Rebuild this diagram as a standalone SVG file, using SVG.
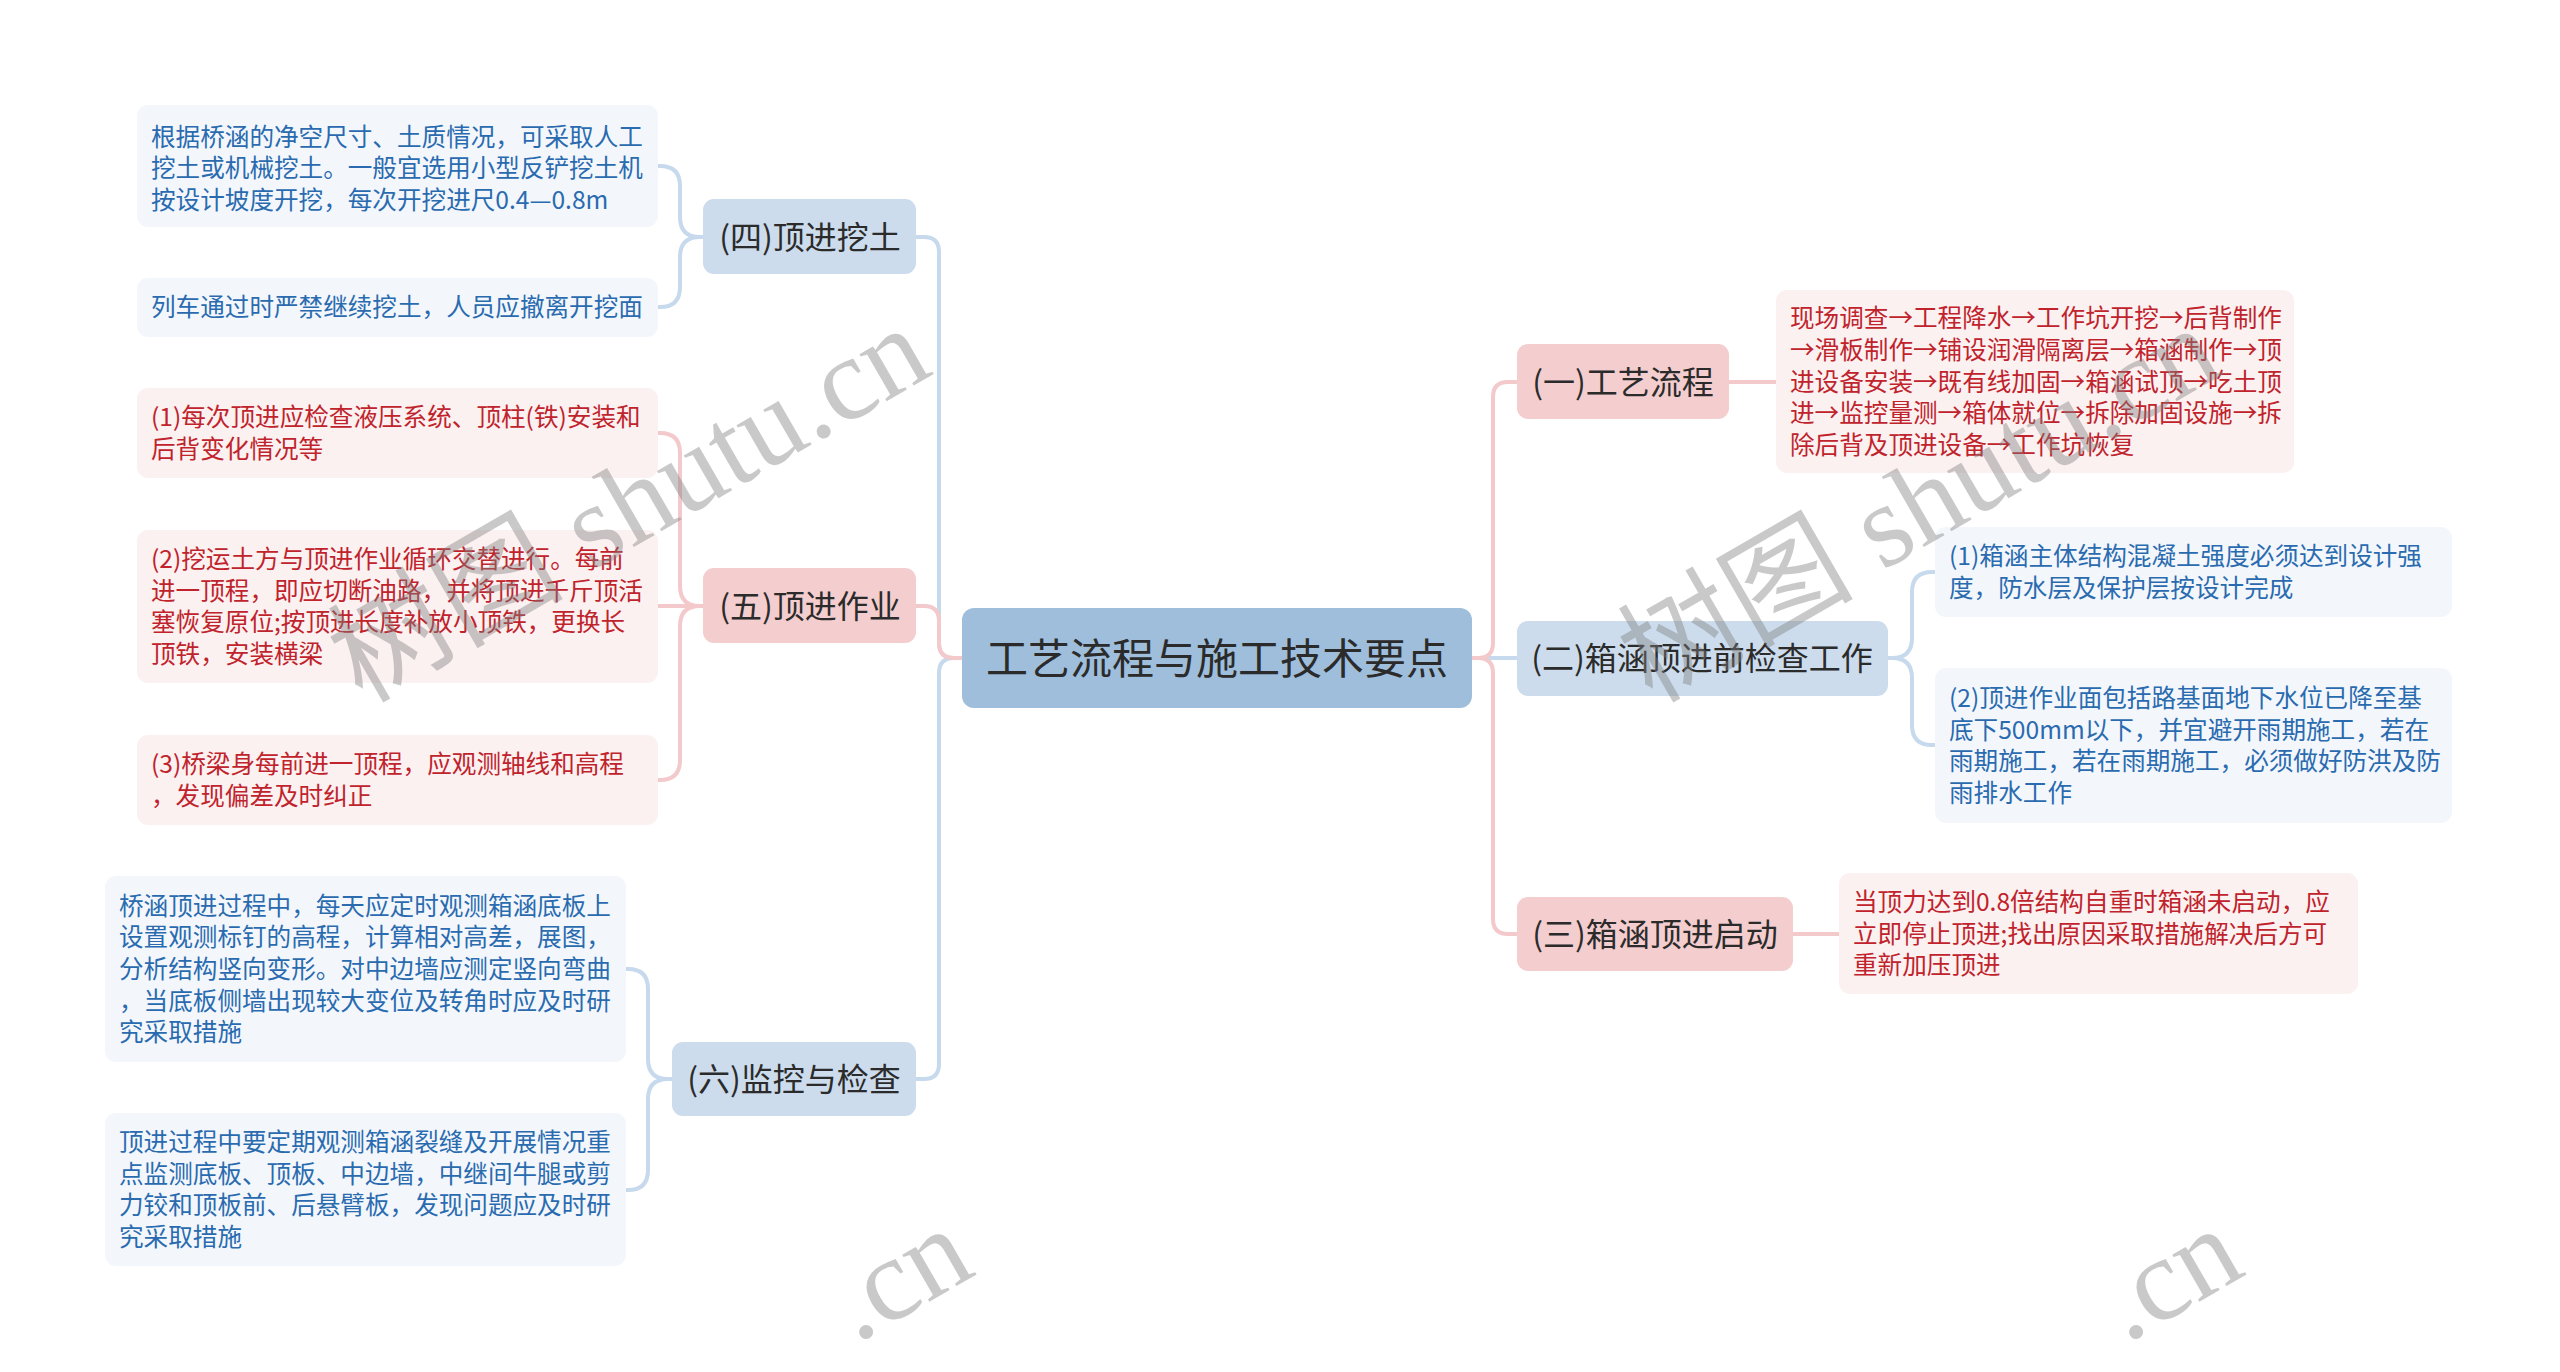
<svg xmlns="http://www.w3.org/2000/svg" width="2560" height="1372" viewBox="0 0 2560 1372">
<style>
.cb{fill:none;stroke:#c7d9ec;stroke-width:4}
.cp{fill:none;stroke:#f4c9cb;stroke-width:4}
.root{fill:#9ebedc}
.nb{fill:#ccdcec}
.np{fill:#f4cdce}
.lb{fill:#f3f7fb}
.lp{fill:#fcf1f1}
.t0{font-family:"Noto Sans CJK SC","Liberation Sans",sans-serif;font-size:42px;fill:#2b2b2b;text-anchor:middle}
.t1{font-family:"Noto Sans CJK SC","Liberation Sans",sans-serif;font-size:32px;fill:#2b2b2b;text-anchor:middle}
.tb{font-family:"Noto Sans CJK SC","Liberation Sans",sans-serif;font-size:24.6px;fill:#2a6bb0}
.tp{font-family:"Noto Sans CJK SC","Liberation Sans",sans-serif;font-size:24.6px;fill:#c0232c}
.wm{font-family:"Liberation Serif","Noto Sans CJK SC",serif;font-size:118px;fill:#7f7f7f;fill-opacity:0.42}
</style>
<rect width="2560" height="1372" fill="#ffffff"/>
<g id="connectors">
<path class="cb" d="M962,658 H954 Q939,658 939,643 V252 Q939,237 924,237 H916"/>
<path class="cb" d="M962,658 H954 Q939,658 939,673 V1064 Q939,1079 924,1079 H916"/>
<path class="cp" d="M962,658 H954 Q939,658 939,643 V621 Q939,606 924,606 H916"/>
<path class="cb" d="M1472,658 H1517"/>
<path class="cp" d="M1472,658 H1478 Q1493,658 1493,643 V397 Q1493,382 1508,382 H1517"/>
<path class="cp" d="M1472,658 H1478 Q1493,658 1493,673 V919 Q1493,934 1508,934 H1517"/>
<path class="cb" d="M703,237 H700 Q680,237 680,217 V186 Q680,166 660,166 H658"/>
<path class="cb" d="M703,237 H700 Q680,237 680,257 V287 Q680,307 660,307 H658"/>
<path class="cp" d="M703,606 H700 Q680,606 680,586 V453 Q680,433 660,433 H658"/>
<path class="cp" d="M703,606 H658"/>
<path class="cp" d="M703,606 H700 Q680,606 680,626 V760 Q680,780 660,780 H658"/>
<path class="cb" d="M672,1079 H668 Q648,1079 648,1059 V989 Q648,969 628,969 H626"/>
<path class="cb" d="M672,1079 H668 Q648,1079 648,1099 V1170 Q648,1190 628,1190 H626"/>
<path class="cp" d="M1729,382 H1776"/>
<path class="cb" d="M1888,658 H1892 Q1912,658 1912,638 V592 Q1912,572 1932,572 H1935"/>
<path class="cb" d="M1888,658 H1892 Q1912,658 1912,678 V725 Q1912,745 1932,745 H1935"/>
<path class="cp" d="M1793,934 H1839"/>
</g>
<g id="root">
<rect class="root" x="962" y="608" width="510" height="100" rx="12"/>
<text class="t0" x="1217" y="674">工艺流程与施工技术要点</text>
</g>
<g id="n1">
<rect class="np" x="1517" y="344" width="212" height="75" rx="11"/>
<text class="t1" x="1623" y="394">(一)工艺流程</text>
</g>
<g id="n2">
<rect class="nb" x="1517" y="621" width="371" height="75" rx="11"/>
<text class="t1" x="1702" y="670">(二)箱涵顶进前检查工作</text>
</g>
<g id="n3">
<rect class="np" x="1517" y="897" width="276" height="74" rx="11"/>
<text class="t1" x="1655" y="946">(三)箱涵顶进启动</text>
</g>
<g id="n4">
<rect class="nb" x="703" y="199" width="213" height="75" rx="11"/>
<text class="t1" x="810" y="249">(四)顶进挖土</text>
</g>
<g id="n5">
<rect class="np" x="703" y="568" width="213" height="75" rx="11"/>
<text class="t1" x="810" y="618">(五)顶进作业</text>
</g>
<g id="n6">
<rect class="nb" x="672" y="1042" width="244" height="74" rx="11"/>
<text class="t1" x="794" y="1091">(六)监控与检查</text>
</g>
<g id="l1">
<rect class="lp" x="1776" y="290" width="518" height="183" rx="11"/>
<text class="tp" x="1790" y="327">现场调查→工程降水→工作坑开挖→后背制作</text>
<text class="tp" x="1790" y="359">→滑板制作→铺设润滑隔离层→箱涵制作→顶</text>
<text class="tp" x="1790" y="391">进设备安装→既有线加固→箱涵试顶→吃土顶</text>
<text class="tp" x="1790" y="422">进→监控量测→箱体就位→拆除加固设施→拆</text>
<text class="tp" x="1790" y="454">除后背及顶进设备→工作坑恢复</text>
</g>
<g id="l2a">
<rect class="lb" x="1935" y="527" width="517" height="90" rx="11"/>
<text class="tb" x="1949" y="565">(1)箱涵主体结构混凝土强度必须达到设计强</text>
<text class="tb" x="1949" y="597">度，防水层及保护层按设计完成</text>
</g>
<g id="l2b">
<rect class="lb" x="1935" y="668" width="517" height="155" rx="11"/>
<text class="tb" x="1949" y="707">(2)顶进作业面包括路基面地下水位已降至基</text>
<text class="tb" x="1949" y="739">底下500mm以下，并宜避开雨期施工，若在</text>
<text class="tb" x="1949" y="770">雨期施工，若在雨期施工，必须做好防洪及防</text>
<text class="tb" x="1949" y="802">雨排水工作</text>
</g>
<g id="l3">
<rect class="lp" x="1839" y="873" width="519" height="121" rx="11"/>
<text class="tp" x="1853" y="911">当顶力达到0.8倍结构自重时箱涵未启动，应</text>
<text class="tp" x="1853" y="943">立即停止顶进;找出原因采取措施解决后方可</text>
<text class="tp" x="1853" y="974">重新加压顶进</text>
</g>
<g id="l4a">
<rect class="lb" x="137" y="105" width="521" height="122" rx="11"/>
<text class="tb" x="151" y="146">根据桥涵的净空尺寸、土质情况，可采取人工</text>
<text class="tb" x="151" y="177">挖土或机械挖土。一般宜选用小型反铲挖土机</text>
<text class="tb" x="151" y="209">按设计坡度开挖，每次开挖进尺0.4—0.8m</text>
</g>
<g id="l4b">
<rect class="lb" x="137" y="278" width="521" height="59" rx="11"/>
<text class="tb" x="151" y="316">列车通过时严禁继续挖土，人员应撤离开挖面</text>
</g>
<g id="l5a">
<rect class="lp" x="137" y="388" width="521" height="90" rx="11"/>
<text class="tp" x="151" y="426">(1)每次顶进应检查液压系统、顶柱(铁)安装和</text>
<text class="tp" x="151" y="458">后背变化情况等</text>
</g>
<g id="l5b">
<rect class="lp" x="137" y="530" width="521" height="153" rx="11"/>
<text class="tp" x="151" y="568">(2)挖运土方与顶进作业循环交替进行。每前</text>
<text class="tp" x="151" y="600">进一顶程，即应切断油路，并将顶进千斤顶活</text>
<text class="tp" x="151" y="631">塞恢复原位;按顶进长度补放小顶铁，更换长</text>
<text class="tp" x="151" y="663">顶铁，安装横梁</text>
</g>
<g id="l5c">
<rect class="lp" x="137" y="735" width="521" height="90" rx="11"/>
<text class="tp" x="151" y="773">(3)桥梁身每前进一顶程，应观测轴线和高程</text>
<text class="tp" x="151" y="805">，发现偏差及时纠正</text>
</g>
<g id="l6a">
<rect class="lb" x="105" y="876" width="521" height="186" rx="11"/>
<text class="tb" x="119" y="915">桥涵顶进过程中，每天应定时观测箱涵底板上</text>
<text class="tb" x="119" y="946">设置观测标钉的高程，计算相对高差，展图，</text>
<text class="tb" x="119" y="978">分析结构竖向变形。对中边墙应测定竖向弯曲</text>
<text class="tb" x="119" y="1010">，当底板侧墙出现较大变位及转角时应及时研</text>
<text class="tb" x="119" y="1041">究采取措施</text>
</g>
<g id="l6b">
<rect class="lb" x="105" y="1113" width="521" height="153" rx="11"/>
<text class="tb" x="119" y="1151">顶进过程中要定期观测箱涵裂缝及开展情况重</text>
<text class="tb" x="119" y="1183">点监测底板、顶板、中边墙，中继间牛腿或剪</text>
<text class="tb" x="119" y="1214">力铰和顶板前、后悬臂板，发现问题应及时研</text>
<text class="tb" x="119" y="1246">究采取措施</text>
</g>
<g id="watermarks">
<text class="wm" x="362" y="704" transform="rotate(-30 362 704)">树图 shutu.cn</text>
<text class="wm" x="1652" y="704" transform="rotate(-30 1652 704)">树图 shutu.cn</text>
<text class="wm" x="856" y="1344" transform="rotate(-30 856 1344)">.cn</text>
<text class="wm" x="2126" y="1344" transform="rotate(-30 2126 1344)">.cn</text>
</g>
</svg>
